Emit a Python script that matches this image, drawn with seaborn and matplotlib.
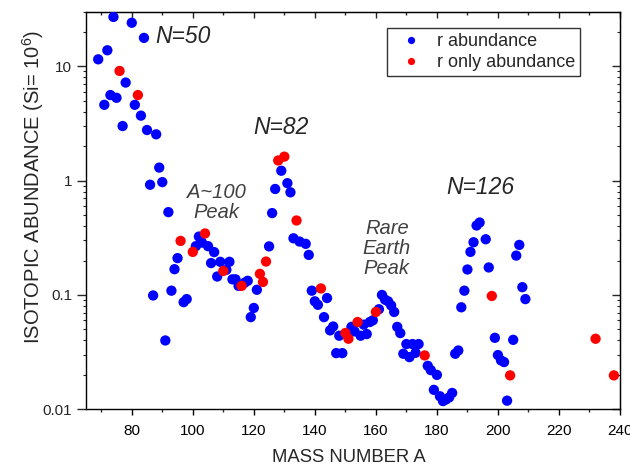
import numpy as np
import pandas as pd
import matplotlib
matplotlib.use("Agg")
import matplotlib.pyplot as plt
import seaborn as sns

# r-process abundances (blue)
r_mass = [69, 71, 72, 73, 74, 75, 77, 78, 80, 81, 83, 84, 85, 86, 87, 88, 89, 90,
          91, 92, 93, 94, 95, 97, 98, 101, 102, 103, 105, 106, 107, 108, 109, 111,
          112, 113, 114, 115, 117, 118, 119, 120, 121, 125, 126, 127, 129, 131, 132,
          133, 135, 137, 138, 139, 140, 141, 143, 144, 145, 146, 147, 148, 149, 152,
          153, 155, 156, 157, 158, 159, 161, 162, 163, 164, 165, 166, 167, 168, 169,
          170, 171, 172, 173, 174, 177, 178, 179, 180, 181, 182, 183, 184, 185, 186,
          187, 188, 189, 190, 191, 192, 193, 194, 196, 197, 199, 200, 201, 202, 203,
          205, 206, 207, 208, 209]
r_abund = [11.5, 4.6, 13.8, 5.6, 27.0, 5.3, 3.0, 7.2, 24.0, 4.6, 3.7, 17.7, 2.77, 0.92,
           0.099, 2.54, 1.30, 0.97, 0.04, 0.53, 0.109, 0.168, 0.21, 0.0865, 0.092,
           0.267, 0.324, 0.287, 0.267, 0.19, 0.237, 0.145, 0.195, 0.166, 0.195, 0.137,
           0.137, 0.12, 0.128, 0.133, 0.064, 0.077, 0.111, 0.266, 0.52, 0.845, 1.22,
           0.95, 0.79, 0.313, 0.293, 0.28, 0.224, 0.109, 0.088, 0.082, 0.064, 0.094,
           0.049, 0.053, 0.031, 0.044, 0.031, 0.0526, 0.048, 0.044, 0.055, 0.0455,
           0.058, 0.06, 0.075, 0.10, 0.091, 0.088, 0.081, 0.071, 0.0526, 0.0464,
           0.0306, 0.0372, 0.0286, 0.0372, 0.0312, 0.0372, 0.024, 0.022, 0.0148, 0.02,
           0.013, 0.0118, 0.0122, 0.0127, 0.0139, 0.0306, 0.0327, 0.078, 0.109, 0.167,
           0.238, 0.289, 0.405, 0.43, 0.307, 0.174, 0.0422, 0.0298, 0.0268, 0.0259,
           0.0119, 0.0405, 0.221, 0.274, 0.117, 0.092]

# r-only isotopes (red)
ronly_mass = [76, 82, 96, 100, 104, 110, 116, 122, 123, 124, 128, 130, 134, 142,
              150, 151, 154, 160, 176, 198, 204, 232, 238]
ronly_abund = [9.1, 5.6, 0.297, 0.238, 0.345, 0.162, 0.12, 0.153, 0.13, 0.196, 1.50,
               1.62, 0.448, 0.114, 0.0465, 0.0414, 0.058, 0.071, 0.0296, 0.098,
               0.0198, 0.0414, 0.0198]

df = pd.concat([
    pd.DataFrame({'A': r_mass, 'abund': r_abund, 'series': 'r abundance'}),
    pd.DataFrame({'A': ronly_mass, 'abund': ronly_abund, 'series': 'r only abundance'}),
], ignore_index=True)

sns.set_style('ticks')
plt.rcParams['font.family'] = ['Liberation Sans', 'DejaVu Sans']
plt.rcParams['mathtext.fontset'] = 'custom'
plt.rcParams['mathtext.rm'] = 'Liberation Sans'
plt.rcParams['mathtext.default'] = 'regular'

fig = plt.figure(figsize=(6.3, 4.68), dpi=100)
ax = fig.add_axes([0.1365, 0.1254, 0.8476, 0.8496])

sns.scatterplot(data=df, x='A', y='abund', hue='series',
                palette={'r abundance': '#0000ff', 'r only abundance': '#ff0000'},
                s=55, linewidth=0, ax=ax, zorder=3)

ax.set_yscale('log')
ax.set_xlim(65, 240)
ax.set_ylim(0.01, 30)
ax.set_xticks(np.arange(80, 241, 20))
ax.set_xticks(np.arange(70, 241, 10), minor=True)
ax.set_yticks([0.01, 0.1, 1, 10])
ax.set_yticklabels(['0.01', '0.1', '1', '10'])

for sp in ax.spines.values():
    sp.set_visible(True)
    sp.set_color('black')
    sp.set_linewidth(1.0)

ax.tick_params(axis='x', which='major', direction='out', length=4, width=1,
               labelsize=11, pad=6.5, colors='black')
ax.tick_params(axis='x', which='minor', direction='out', length=2.5, width=1)
ax.tick_params(axis='y', which='major', direction='out', length=6.5, width=1,
               labelsize=11, pad=3.5)
ax.tick_params(axis='y', which='minor', direction='out', length=2.5, width=0.8)

# inward ticks on top and right
top = ax.secondary_xaxis('top')
top.set_xticks(np.arange(80, 241, 20))
top.set_xticks(np.arange(70, 241, 10), minor=True)
top.tick_params(which='major', direction='in', length=4, width=1, labeltop=False)
top.tick_params(which='minor', direction='in', length=2.5, width=1)
right = ax.secondary_yaxis('right')
right.set_yticks([0.01, 0.1, 1, 10])
right.tick_params(which='major', direction='in', length=6, width=1, labelright=False)
right.tick_params(which='minor', direction='in', length=2.5, width=0.8)

ax.set_xlabel('MASS NUMBER A', fontsize=13.3, va='top')
ax.xaxis.set_label_coords(0.492, -0.101)
ax.set_ylabel('ISOTOPIC ABUNDANCE (Si= 10$^{6}$)', fontsize=14.5)
ax.yaxis.set_label_coords(-0.075, 0.559)

ax.text(87.6, 18.2, 'N=50', fontsize=16.5, style='italic', ha='left', va='center')
ax.text(119.7, 2.89, 'N=82', fontsize=16.5, style='italic', ha='left', va='center')
ax.text(183, 0.865, 'N=126', fontsize=16.5, style='italic', ha='left', va='center')
ax.text(107.6, 0.64, 'A~100\nPeak', fontsize=14.5, style='italic', color='#404040',
        ha='center', va='center', linespacing=1.05)
ax.text(163.6, 0.255, 'Rare\nEarth\nPeak', fontsize=14.5, style='italic', color='#404040',
        ha='center', va='center', linespacing=1.05)

leg = ax.legend(loc='upper right', bbox_to_anchor=(0.925, 0.958), borderaxespad=0,
                fontsize=13, frameon=True, fancybox=False, markerscale=0.7,
                handlelength=2.17, handletextpad=0.36, borderpad=0.25,
                labelspacing=0.25)
leg.get_frame().set_edgecolor('black')
leg.get_frame().set_linewidth(1.0)
leg.set_title(None)

fig.savefig('out.png', dpi=100)
